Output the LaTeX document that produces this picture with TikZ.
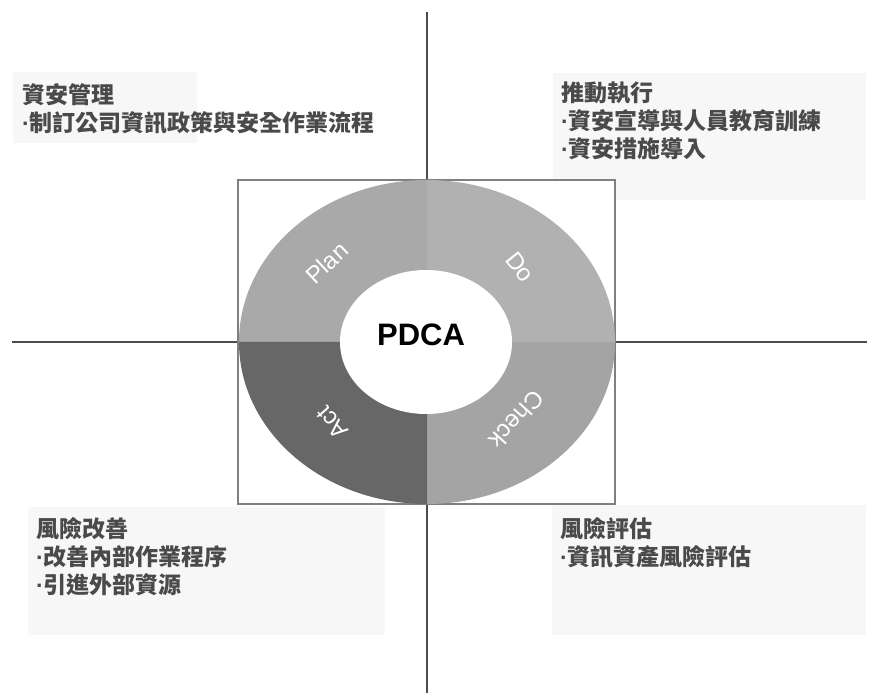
\documentclass[tikz,border=0pt]{standalone}
\usepackage{fontspec}
\setmainfont{Liberation Sans}
\newfontfamily\cjk{Noto Sans CJK TC}
\usepackage{tikz}
\usetikzlibrary{positioning}
\definecolor{plangray}{HTML}{A9A9A9}
\definecolor{dogray}{HTML}{B1B1B1}
\definecolor{checkgray}{HTML}{A4A4A4}
\definecolor{actgray}{HTML}{676767}
\definecolor{notebg}{HTML}{F7F7F7}
\definecolor{notetext}{HTML}{4A4A4A}
\newcommand{\bul}{{\rmfamily\bfseries·}}

\begin{document}
\begin{tikzpicture}[x=1pt,y=1pt,
   axis/.style={draw=black!70,line width=2pt},
   note/.style={anchor=base west,align=left,inner sep=0pt,text=notetext,
      font=\cjk\bfseries\fontsize{23}{28}\selectfont},
   phase/.style={text=white,font=\fontsize{24}{28}\selectfont}]
   \useasboundingbox (0,0) rectangle (871,693);
   % note backgrounds
   \fill[notebg] (13,550) rectangle (197,621);
   \fill[notebg] (553,493) rectangle (866,620);
   \fill[notebg] (28,58) rectangle (385,186);
   \fill[notebg] (552,58) rectangle (866,188);
   % axes
   \coordinate (top) at (427,681);
   \coordinate (bottom) at (427,0);
   \coordinate (left) at (12,351);
   \coordinate (right) at (867,351);
   \coordinate (c) at (427,351);
   \draw[axis] (top) -- (bottom);
   \draw[axis] (left) -- (right);
   % PDCA ring
   \draw[black!50,line width=1.3pt,fill=white] (238,189) rectangle (615,513);
   \fill[plangray] (c) -- ++(-188,0) arc[start angle=180,end angle=90,x radius=188,y radius=162] -- cycle;
   \fill[dogray] (c) -- ++(0,162) arc[start angle=90,end angle=0,x radius=188,y radius=162] -- cycle;
   \fill[checkgray] (c) -- ++(188,0) arc[start angle=0,end angle=-90,x radius=188,y radius=162] -- cycle;
   \fill[actgray] (c) -- ++(0,-162) arc[start angle=-90,end angle=-180,x radius=188,y radius=162] -- cycle;
   \fill[white] (426,351) ellipse[x radius=86,y radius=72];
   \node[font=\bfseries\fontsize{31}{36}\selectfont] (pdca) at (421,358) {PDCA};
   \node[phase,rotate=43] (plan) at (327,430) {Plan};
   \node[phase,rotate=-51] (do) at (520,426) {Do};
   \node[phase,rotate=-132] (check) at (517,273) {Check};
   \node[phase,rotate=131] (act) at (332,270) {Act};
   % notes (anchored at the last line)
   \node[note] (manage) at (22,561) {資安管理\\\bul 制訂公司資訊政策與安全作業流程};
   \node[note] (execute) at (561,535) {推動執行\\\bul 資安宣導與人員教育訓練\\\bul 資安措施導入};
   \node[note] (improve) at (36,99) {風險改善\\\bul 改善內部作業程序\\\bul 引進外部資源};
   \node[note] (assess) at (560,127) {風險評估\\\bul 資訊資產風險評估};
\end{tikzpicture}
\end{document}
